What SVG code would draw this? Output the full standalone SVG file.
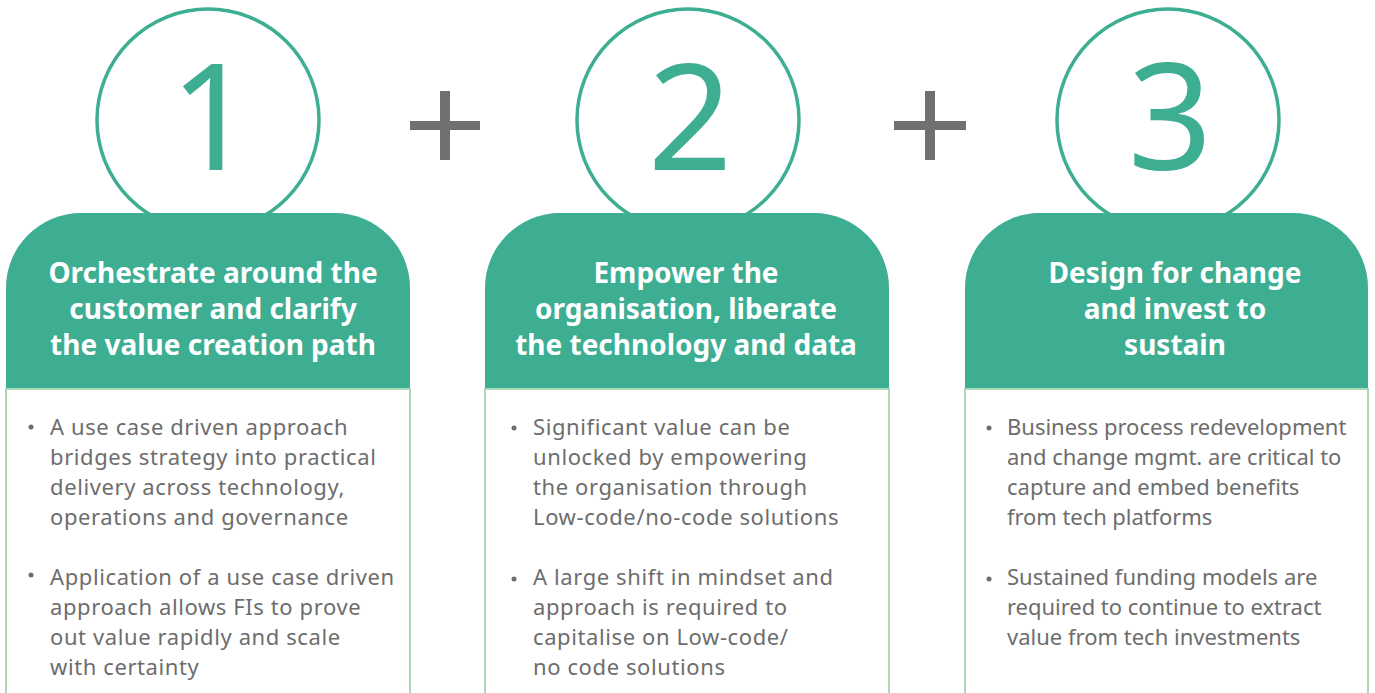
<svg xmlns="http://www.w3.org/2000/svg" width="1375" height="693" viewBox="0 0 1375 693">
  <style>
    .ring { fill: #ffffff; stroke: #3dae92; stroke-width: 3.5; }
    .num { font-family: "Noto Sans", "Liberation Sans", sans-serif; font-size: 148px; fill: #3dae92; text-anchor: middle; }
    .head { fill: #3dae92; }
    .body { fill: none; stroke: #a9dab5; stroke-width: 2; }
    .title { font-family: "Noto Sans", "Liberation Sans", sans-serif; font-weight: bold; font-size: 28px; fill: #ffffff; text-anchor: middle; }
    .txt { font-family: "Noto Sans", "Liberation Sans", sans-serif; font-size: 22px; letter-spacing: 0.6px; fill: #6d6d6d; }
    .dot { fill: #6d6d6d; }
    .plus { fill: #707070; }
  </style>

  <!-- pillar 1 -->
  <g id="pillar-1">
    <circle class="ring" cx="208" cy="120" r="111"/>
    <text class="num" x="212" y="170">1</text>
    <path class="body" d="M6,388 V693 M410,388 V693 M6,389 H410"/>
    <path class="head" d="M6,388 V288 A75,75 0 0 1 81,213 H335 A75,75 0 0 1 410,288 V388 Z"/>
    <text class="title" x="213" y="283">Orchestrate around the</text>
    <text class="title" x="213" y="319">customer and clarify</text>
    <text class="title" x="213" y="355">the value creation path</text>
    <circle class="dot" cx="31" cy="427" r="2.5"/>
    <text class="txt" x="50" y="435">A use case driven approach</text>
    <text class="txt" x="50" y="465">bridges strategy into practical</text>
    <text class="txt" x="50" y="495">delivery across technology,</text>
    <text class="txt" x="50" y="525">operations and governance</text>
    <circle class="dot" cx="31" cy="575" r="2.5"/>
    <text class="txt" x="50" y="585">Application of a use case driven</text>
    <text class="txt" x="50" y="615">approach allows FIs to prove</text>
    <text class="txt" x="50" y="645">out value rapidly and scale</text>
    <text class="txt" x="50" y="675">with certainty</text>
  </g>

  <!-- pillar 2 -->
  <g id="pillar-2">
    <circle class="ring" cx="688" cy="120" r="111"/>
    <text class="num" x="690" y="170">2</text>
    <path class="body" d="M485,388 V693 M889,388 V693 M485,389 H889"/>
    <path class="head" d="M485,388 V288 A75,75 0 0 1 560,213 H814 A75,75 0 0 1 889,288 V388 Z"/>
    <text class="title" x="686" y="283">Empower the</text>
    <text class="title" x="686" y="319">organisation, liberate</text>
    <text class="title" x="686" y="355">the technology and data</text>
    <circle class="dot" cx="514" cy="428" r="2.5"/>
    <text class="txt" x="533" y="435">Significant value can be</text>
    <text class="txt" x="533" y="465">unlocked by empowering</text>
    <text class="txt" x="533" y="495">the organisation through</text>
    <text class="txt" x="533" y="525">Low-code/no-code solutions</text>
    <circle class="dot" cx="514" cy="579" r="2.5"/>
    <text class="txt" x="533" y="585">A large shift in mindset and</text>
    <text class="txt" x="533" y="615">approach is required to</text>
    <text class="txt" x="533" y="645">capitalise on Low-code/</text>
    <text class="txt" x="533" y="675">no code solutions</text>
  </g>

  <!-- pillar 3 -->
  <g id="pillar-3">
    <circle class="ring" cx="1168" cy="120" r="111"/>
    <text class="num" x="1170" y="170">3</text>
    <path class="body" d="M965,388 V693 M1368,388 V693 M965,389 H1368"/>
    <path class="head" d="M965,388 V288 A75,75 0 0 1 1040,213 H1293 A75,75 0 0 1 1368,288 V388 Z"/>
    <text class="title" x="1175" y="283">Design for change</text>
    <text class="title" x="1175" y="319">and invest to</text>
    <text class="title" x="1175" y="355">sustain</text>
    <circle class="dot" cx="989" cy="428" r="2.5"/>
    <text class="txt" x="1007" y="435" textLength="340" lengthAdjust="spacing">Business process redevelopment</text>
    <text class="txt" x="1007" y="465" textLength="335" lengthAdjust="spacing">and change mgmt. are critical to</text>
    <text class="txt" x="1007" y="495" textLength="293" lengthAdjust="spacing">capture and embed benefits</text>
    <text class="txt" x="1007" y="525" textLength="206" lengthAdjust="spacing">from tech platforms</text>
    <circle class="dot" cx="989" cy="579" r="2.5"/>
    <text class="txt" x="1007" y="585" textLength="311" lengthAdjust="spacing">Sustained funding models are</text>
    <text class="txt" x="1007" y="615" textLength="315" lengthAdjust="spacing">required to continue to extract</text>
    <text class="txt" x="1007" y="645" textLength="294" lengthAdjust="spacing">value from tech investments</text>
  </g>

  <!-- plus signs between pillars -->
  <g id="connectors">
    <path class="plus" d="M410,121 H480 V130 H410 Z M440,91 H450 V160 H440 Z"/>
    <path class="plus" d="M894,121 H966 V130 H894 Z M925,91 H935 V160 H925 Z"/>
  </g>
</svg>
